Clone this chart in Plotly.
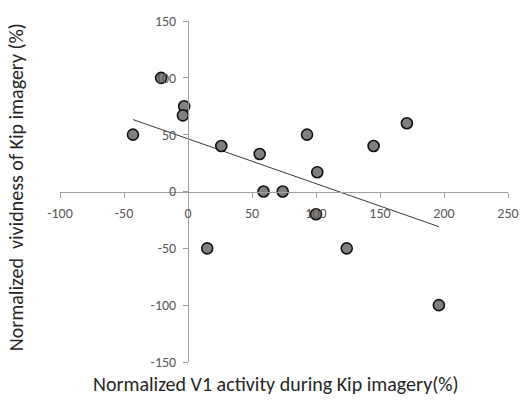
import numpy as np
import plotly.graph_objects as go

# Data
v1_activity = [-43, -21, -3, -4, 26, 56, 59, 74, 93, 101, 100, 15, 124, 145, 171, 196]
vividness = [50, 100, 75, 67, 40, 33, 0, 0, 50, 17, -20, -50, -50, 40, 60, -100]

x_ticks = [-100, -50, 0, 50, 100, 150, 200, 250]
y_ticks = [-150, -100, -50, 0, 50, 100, 150]

x_title = "Normalized V1 activity during Kip imagery(%)"
y_title = "Normalized  vividness of Kip imagery (%)"

# Linear trend line over the data range
slope, intercept = np.polyfit(v1_activity, vividness, 1)
trend_x = np.array([min(v1_activity), max(v1_activity)])
trend_y = slope * trend_x + intercept

FONT = "Calibri, Carlito, Lato, sans-serif"
AXIS_COLOR = "#A0A0A0"
xr = [x_ticks[0], x_ticks[-1]]
yr = [y_ticks[0], y_ticks[-1]]

fig = go.Figure()
fig.add_trace(go.Scatter(
    x=trend_x, y=trend_y, mode="lines",
    line=dict(color="#3a3a3a", width=1), hoverinfo="skip", showlegend=False))
fig.add_trace(go.Scatter(
    x=v1_activity, y=vividness, mode="markers",
    marker=dict(size=11, color="#808080", line=dict(color="#111111", width=1.6)),
    showlegend=False))

fig.update_layout(
    width=522, height=401, autosize=False,
    margin=dict(l=60, r=14, t=21, b=39),
    paper_bgcolor="white", plot_bgcolor="white",
    font=dict(family=FONT, color="#595959", size=14),
    xaxis=dict(
        range=xr, tickvals=x_ticks, ticktext=[str(v) for v in x_ticks],
        showgrid=False, zeroline=False, showline=True, linecolor=AXIS_COLOR, linewidth=1,
        ticks="outside", ticklen=5, tickcolor=AXIS_COLOR, ticklabelstandoff=4,
        anchor="free", position=(0 - yr[0]) / (yr[1] - yr[0]), automargin=False,
        tickfont=dict(family=FONT, size=14, color="#595959"),
    ),
    yaxis=dict(
        range=yr, tickvals=y_ticks, ticktext=[str(v) for v in y_ticks],
        showgrid=False, zeroline=False, showline=True, linecolor=AXIS_COLOR, linewidth=1,
        ticks="outside", ticklen=5, tickcolor=AXIS_COLOR, ticklabelstandoff=4,
        anchor="free", position=(0 - xr[0]) / (xr[1] - xr[0]), automargin=False,
        tickfont=dict(family=FONT, size=14, color="#595959"),
    ),
    annotations=[
        dict(text=x_title, xref="paper", yref="paper", x=0.482, y=-0.064,
             xanchor="center", yanchor="middle", showarrow=False,
             font=dict(family=FONT, size=20, color="#262626")),
        dict(text=y_title, xref="paper", yref="paper", x=-0.098, y=0.513,
             xanchor="center", yanchor="middle", showarrow=False, textangle=-90,
             font=dict(family=FONT, size=20, color="#262626")),
    ],
)

fig.write_html(
    "out.html",
    config={"displayModeBar": False, "responsive": False},
    default_width="522px", default_height="401px",
    post_script="document.body.style.margin='0';document.body.style.overflow='hidden';",
)
